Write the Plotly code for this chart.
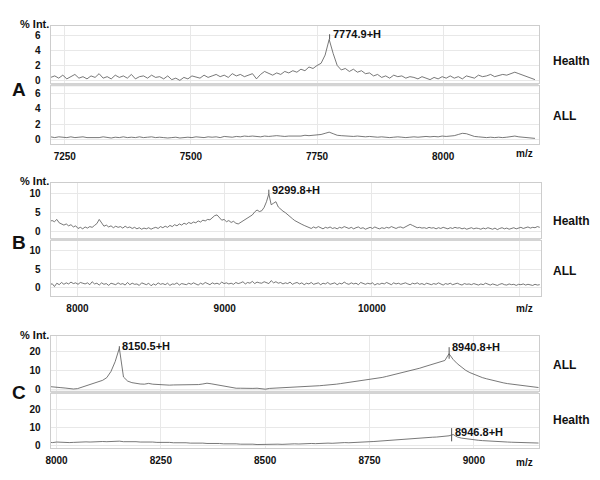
import plotly.graph_objects as go
import numpy as np

# ---- data ----
# panel A: m/z grid 7222 + 8*i
a_start, a_step = 7222, 8
a_health = [0.4, 0.6, 0.3, 0.7, 0.2, 0.5, 0.8, 0.3, 0.5, 0.2,
            0.6, 0.4, 0.9, 0.3, 0.5, 0.2, 0.7, 0.4, 0.6, 0.3,
            0.8, 0.2, 0.5, 0.6, 0.3, 0.7, 0.4, 0.5, 0.2, 0.6,
            0.1, 0.3, 0.0, 0.4, 0.2, 0.6, 0.5, 0.3, 0.7, 0.4,
            0.6, 0.8, 0.5, 0.7, 0.4, 0.9, 0.6, 0.8, 0.5, 0.7,
            0.9, 0.2, 0.8, 1.2, 0.9, 0.7, 1.0, 0.8, 1.2, 1.0,
            1.3, 1.1, 1.5, 1.3, 1.8, 1.6, 2.0, 2.3, 3.4, 5.5,
            3.6, 2.0, 1.4, 1.6, 1.2, 1.5, 1.1, 1.3, 0.9, 1.0,
            0.6, 0.8, 0.4, 0.6, 0.3, 0.7, 0.5, 0.6, 0.3, 0.5,
            0.4, 0.2, 0.5, 0.3, 0.1, 0.4, 0.2, 0.5, 0.3, 0.6,
            0.3, 0.5, 0.2, 0.6, 0.4, 0.3, 0.7, 0.5, 0.6, 0.8,
            0.5, 0.6, 0.8, 0.7, 0.9, 1.1, 0.9, 0.7, 0.5, 0.4, 0.1]
a_all = [0.4, 0.3, 0.4, 0.35, 0.3, 0.4, 0.3, 0.35, 0.4, 0.3,
         0.3, 0.35, 0.3, 0.4, 0.3, 0.25, 0.35, 0.3, 0.4, 0.3,
         0.35, 0.3, 0.4, 0.3, 0.35, 0.4, 0.3, 0.35, 0.3, 0.25,
         0.3, 0.35, 0.25, 0.3, 0.35, 0.3, 0.4, 0.35, 0.3, 0.4,
         0.35, 0.4, 0.3, 0.45, 0.4, 0.35, 0.45, 0.4, 0.5, 0.45,
         0.5, 0.45, 0.4, 0.5, 0.45, 0.5, 0.55, 0.5, 0.45, 0.5,
         0.5, 0.55, 0.5, 0.6, 0.55, 0.6, 0.65, 0.7, 0.85, 1.0,
         0.8, 0.6, 0.55, 0.5, 0.5, 0.45, 0.5, 0.45, 0.4, 0.45,
         0.4, 0.35, 0.4, 0.35, 0.3, 0.35, 0.4, 0.35, 0.3, 0.35,
         0.4, 0.35, 0.4, 0.45, 0.4, 0.45, 0.4, 0.5, 0.45, 0.5,
         0.55, 0.7, 0.85, 0.8, 0.6, 0.45, 0.4, 0.35, 0.3, 0.35,
         0.3, 0.35, 0.3, 0.35, 0.4, 0.5, 0.4, 0.35, 0.3, 0.25, 0.2]

# panel B: m/z grid 7811.8 + 16*i
b_start, b_step = 7811.8, 16
b_health = [2.6, 2.8, 2.5, 3.1, 2.2, 2.0, 1.6, 1.9, 1.4, 1.7,
            1.1, 1.4, 0.7, 1.0, 0.6, 1.1, 0.8, 1.2, 1.0, 1.5,
            2.0, 3.1, 2.0, 1.3, 1.6, 1.1, 1.4, 0.9, 1.3, 1.0,
            1.2, 0.8, 1.3, 0.9, 1.1, 0.7, 1.0, 0.6, 0.9, 0.5,
            0.8, 0.6, 0.9, 0.5, 0.8, 1.0, 0.7, 1.2, 0.9, 1.3,
            1.0, 1.5, 1.2, 1.7, 1.4, 1.9, 1.6, 2.1, 1.8, 2.3,
            2.0, 2.4, 2.2, 2.7, 2.4, 2.9, 2.7, 3.1, 3.0, 3.5,
            4.1, 4.3, 3.6, 2.9, 3.1, 2.5, 2.8, 2.3, 2.6, 2.1,
            1.9, 2.3, 2.7, 3.0, 3.4, 3.9, 4.3, 5.1, 5.6, 5.2,
            5.4, 6.3, 7.8, 9.9, 7.0, 7.4, 7.8, 6.4, 5.8, 5.3,
            4.9, 4.3, 3.8, 3.3, 2.8, 2.4, 2.0, 1.8, 1.5, 1.2,
            1.0, 0.7, 1.1, 0.8, 1.2, 0.9, 0.6, 1.0, 0.8, 1.1,
            0.7, 0.9, 0.6, 1.0, 0.8, 1.2, 0.9, 0.7, 1.0, 0.6,
            0.9, 1.1, 0.7, 0.9, 0.5, 0.8, 1.0, 0.7, 1.1, 0.8,
            0.6, 0.9, 0.7, 1.0, 0.8, 1.2, 0.9, 0.7, 1.0, 1.1,
            0.8, 1.2, 1.4, 1.8, 1.5, 1.1, 0.9, 1.0, 0.8, 0.9,
            0.7, 1.0, 0.8, 0.9, 0.6, 0.9, 0.7, 1.0, 0.8, 0.6,
            0.9, 0.7, 1.0, 0.8, 0.9, 0.6, 0.8, 0.5, 0.7, 0.9,
            0.6, 0.8, 0.7, 0.5, 0.8, 0.6, 0.9, 0.7, 0.5, 0.8,
            0.4, 0.7, 0.9, 0.6, 0.8, 0.5, 0.7, 0.9, 0.6, 0.8,
            1.0, 0.7, 0.9, 1.1, 0.8, 1.0, 0.9, 1.2, 1.0]
b_all = [0.6, 1.1, 0.3, 1.2, 0.8, 1.4, 0.9, 1.3, 1.0, 1.5, 1.1, 1.3, 0.9, 1.4, 1.2, 1.0, 1.3, 0.8, 1.6, 1.0,
         1.2, 0.7, 1.3, 0.9, 1.1, 0.6, 1.2, 1.0, 0.8, 1.3, 0.9, 1.1, 0.7, 1.4, 0.8, 1.2, 0.9, 1.0, 0.6, 1.3,
         1.1, 0.8, 1.2, 0.5, 1.0, 0.7, 1.3, 0.9, 1.1, 0.8, 1.2, 0.6, 1.0, 0.9, 1.3, 0.7, 1.1, 1.0, 0.8, 1.2,
         0.9, 1.3, 1.0, 0.7, 1.2, 0.9, 1.4, 1.1, 0.8, 1.3, 1.0, 1.2, 0.9, 1.5, 1.1, 1.3, 1.0, 1.2, 0.9, 1.4,
         1.1, 1.3, 1.6, 1.0, 1.4, 1.2, 1.7, 1.1, 1.5, 1.3, 1.2, 1.6, 1.4, 1.1, 1.9, 1.3, 1.6, 1.2, 1.4, 1.0,
         1.3, 1.1, 1.5, 0.9, 1.2, 1.4, 1.0, 1.3, 0.8, 1.2, 1.0, 1.4, 0.9, 1.1, 1.3, 0.8, 1.2, 1.0, 1.4, 0.9,
         1.1, 1.3, 0.8, 1.2, 1.0, 1.5, 1.1, 0.9, 1.3, 1.0, 1.2, 0.8, 1.4, 1.1, 0.9, 1.2, 1.0, 1.3, 0.7, 1.1,
         0.9, 1.2, 1.0, 1.4, 1.1, 0.8, 1.3, 1.0, 1.2, 0.9, 1.1, 1.3, 1.0, 0.8, 1.2, 1.0, 1.3, 0.9, 1.1, 0.8,
         1.2, 1.0, 0.8, 1.1, 0.9, 1.3, 1.0, 0.7, 1.1, 0.9, 1.2, 0.8, 1.0, 1.2, 0.9, 0.7, 1.1, 0.9, 1.0, 0.8,
         1.1, 0.9, 0.7, 1.0, 0.8, 1.2, 0.9, 0.7, 1.0, 0.8, 0.6, 0.9, 1.1, 0.8, 0.7, 1.0, 0.8, 0.9, 0.6, 0.9,
         0.8, 1.0, 0.7, 0.9, 0.8, 0.6, 0.9, 0.7, 0.8]

# panel C: m/z grid 7980.5 + 10*i
c_start, c_step = 7980.5, 10
c_all = [1.6, 1.5, 1.3, 1.0, 0.8, 0.6, 0.3, 0.5, 1.2, 2.0,
         2.6, 3.2, 3.9, 4.8, 6.2, 9.4, 14.5, 21.5, 6.5, 4.4,
         3.6, 3.1, 2.9, 2.8, 3.2, 2.8, 2.6, 2.4, 2.4, 2.3,
         2.4, 2.4, 2.5, 2.7, 2.6, 2.7, 2.6, 2.9, 3.3, 3.0,
         2.6, 2.2, 1.7, 1.3, 0.9, 0.7, 0.7, 0.6, 0.7, 0.6,
         0.7, 0.5, 0.2, 0.6, 0.7, 0.7, 0.8, 0.9, 1.0, 1.1,
         1.3, 1.4, 1.6, 1.7, 1.9, 2.0, 2.2, 2.3, 2.5, 2.8,
         3.1, 3.4, 3.7, 3.9, 4.2, 4.5, 4.8, 5.1, 5.5, 5.9,
         6.3, 6.8, 7.3, 7.9, 8.4, 8.9, 9.4, 10.0, 10.5, 11.1,
         11.8, 12.5, 13.2, 13.9, 14.5, 15.1, 18.6, 15.6, 13.4, 11.5,
         10.0, 8.8, 7.8, 7.0, 6.2, 5.6, 5.0, 4.5, 4.0, 3.5,
         3.1, 2.8, 2.5, 2.2, 1.9, 1.6, 1.3, 1.0, 0.9]
c_health = [1.7, 1.5, 1.8, 1.6, 1.7, 1.5, 1.6, 1.8, 1.7, 1.9,
            1.8, 2.0, 1.9, 2.1, 2.0, 2.2, 2.1, 2.3, 2.0, 2.1,
            1.9, 2.0, 1.8, 1.9, 1.7, 1.8, 1.6, 1.7, 1.5, 1.6,
            1.4, 1.5, 1.3, 1.4, 1.2, 1.3, 1.1, 1.2, 1.0, 1.1,
            0.9, 1.0, 0.8, 0.9, 0.7, 0.8, 0.6, 0.7, 0.5, 0.6,
            0.4, 0.5, 0.3, 0.5, 0.4, 0.6, 0.5, 0.7, 0.6, 0.8,
            0.7, 0.9, 0.8, 1.0, 0.9, 1.1, 1.0, 1.2, 1.1, 1.3,
            1.3, 1.5, 1.4, 1.6, 1.6, 1.8, 1.8, 2.0, 2.1, 2.3,
            2.4, 2.6, 2.7, 2.9, 3.0, 3.2, 3.4, 3.6, 3.8, 4.0,
            4.1, 4.3, 4.5, 4.6, 4.8, 4.9, 5.3, 6.0, 4.6, 4.0,
            3.6, 3.3, 3.0, 2.8, 2.6, 2.4, 2.3, 2.1, 2.0, 1.9,
            1.8, 1.7, 1.6, 1.5, 1.5, 1.4, 1.3, 1.3, 1.2]

a_ticks = [7250, 7500, 7750, 8000]
b_ticks = [8000, 9000, 10000, 11000]
b_ticktext = ["8000", "9000", "10000", ""]
c_ticks = [8000, 8250, 8500, 8750, 9000]

# peak labels: (subplot, m/z, label, tick bottom, tick top)
peaks = [(1, 7774.9, "7774.9+H", 5.5, 6.2),
         (3, 9299.8, "9299.8+H", 9.9, 11.0),
         (5, 8150.5, "8150.5+H", 21.5, 22.5),
         (5, 8940.8, "8940.8+H", 16.0, 22.0),
         (6, 8946.8, "8946.8+H", 2.2, 9.6)]

# the page body has an 8px margin, so the figure is 592x472 placed at (8, 8)
OFF = 8
W, H = 600 - OFF, 480 - OFF
LINE = "#555555"
GRID = "#e8e8e8"
BORDER = "#cdcdcd"
FONT = "Liberation Sans"


def px_x(p):
    return (p - OFF) / W


def px_y(p):
    return 1 - (p - OFF) / H


def grid(start, step, n):
    return start + step * np.arange(n)


series = [
    (grid(a_start, a_step, len(a_health)), a_health),
    (grid(a_start, a_step, len(a_all)), a_all),
    (grid(b_start, b_step, len(b_health)), b_health),
    (grid(b_start, b_step, len(b_all)), b_all),
    (grid(c_start, c_step, len(c_all)), c_all),
    (grid(c_start, c_step, len(c_health)), c_health),
]

# subplot boxes in screen pixels (top, bottom, left, right), y range, ticks
boxes = [
    dict(top=26, bot=84, x0=46, x1=538, yr=[-0.4, 7.33], yt=[0, 2, 4, 6], xr=[7222, 8189], xt=a_ticks, xtt=None, lab=False),
    dict(top=87, bot=145, x0=46, x1=538, yr=[-0.5, 6.88], yt=[0, 2, 4, 6], xr=[7222, 8189], xt=a_ticks, xtt=None, lab=True),
    dict(top=184, bot=240, x0=46, x1=540, yr=[-1.84, 12.9], yt=[0, 5, 10], xr=[7818, 11145], xt=b_ticks, xtt=b_ticktext, lab=False),
    dict(top=243, bot=298, x0=46, x1=540, yr=[-2.16, 12.7], yt=[0, 5, 10], xr=[7818, 11145], xt=b_ticks, xtt=b_ticktext, lab=True),
    dict(top=339, bot=394, x0=46, x1=538, yr=[-0.6, 27.7], yt=[0, 10, 20], xr=[7986, 9155], xt=c_ticks, xtt=None, lab=False),
    dict(top=397, bot=452, x0=46, x1=538, yr=[-1.67, 28.9], yt=[0, 10, 20], xr=[7986, 9155], xt=c_ticks, xtt=None, lab=True),
]

fig = go.Figure()
tickfont = dict(family=FONT, size=10, color="#111", weight="bold")

for k, ((x, y), b) in enumerate(zip(series, boxes), start=1):
    fig.add_trace(go.Scatter(x=x, y=y, mode="lines", line=dict(color=LINE, width=0.8),
                             xaxis=f"x{k}", yaxis=f"y{k}", showlegend=False, hoverinfo="skip"))
    fig.layout[f"xaxis{k}"] = dict(
        domain=[px_x(b["x0"]), px_x(b["x1"])], range=b["xr"], anchor=f"y{k}",
        tickvals=b["xt"], ticktext=b["xtt"] if b["xtt"] else [str(v) for v in b["xt"]],
        showticklabels=b["lab"], showgrid=True, gridcolor=GRID, gridwidth=1,
        zeroline=False, showline=True, linecolor=BORDER, mirror=True,
        ticks="outside", ticklen=3, tickcolor="rgba(0,0,0,0)", tickfont=tickfont)
    fig.layout[f"yaxis{k}"] = dict(
        domain=[px_y(b["bot"]), px_y(b["top"])], range=b["yr"], anchor=f"x{k}",
        tickvals=b["yt"], showgrid=True, gridcolor=GRID, gridwidth=1,
        zeroline=False, showline=True, linecolor=BORDER, mirror=True,
        ticks="outside", ticklen=7, tickcolor="rgba(0,0,0,0)", tickfont=tickfont)

# separators between the paired subplots
for top_box in (boxes[0], boxes[2], boxes[4]):
    fig.add_shape(type="rect", xref="paper", yref="paper",
                  x0=px_x(top_box["x0"]), x1=px_x(top_box["x1"]),
                  y0=px_y(top_box["bot"] + 3), y1=px_y(top_box["bot"]),
                  fillcolor="#d4d4d4", line=dict(width=0), layer="above")

annotations = []
for k, mz, label, lo, hi in peaks:
    fig.add_shape(type="line", xref=f"x{k}", yref=f"y{k}", x0=mz, x1=mz, y0=lo, y1=hi,
                  line=dict(color=LINE, width=1))
    annotations.append(dict(xref=f"x{k}", yref=f"y{k}", x=mz, y=hi - (hi - lo) * 0.3 if k == 6 else hi,
                            text=label, showarrow=False, xanchor="left", yanchor="middle", xshift=1,
                            font=dict(family=FONT, size=11, color="#111", weight="bold")))


def paper_text(x, y, text, size, xanchor="center"):
    annotations.append(dict(xref="paper", yref="paper", x=px_x(x), y=px_y(y), text=text,
                            showarrow=False, xanchor=xanchor, yanchor="middle",
                            font=dict(family=FONT, size=size, color="#111", weight="bold")))


for yy in (24, 182, 338):
    paper_text(30, yy, "% Int.", 11)
for letter, yy in (("A", 90), ("B", 245), ("C", 396)):
    paper_text(14, yy, letter, 19)
for name, yy in (("Health", 61), ("ALL", 117), ("Health", 223), ("ALL", 273), ("ALL", 368), ("Health", 424)):
    paper_text(551, yy, name, 12, xanchor="left")
for yy in (155, 311, 466):
    paper_text(524, yy, "m/z", 10)

fig.update_layout(width=W, height=H, margin=dict(l=0, r=0, t=0, b=0),
                  paper_bgcolor="white", plot_bgcolor="white", annotations=annotations)

fig.write_html("out.html")
